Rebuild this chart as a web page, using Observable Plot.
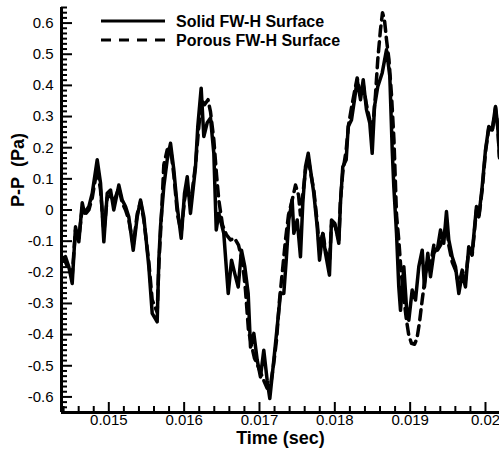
<!DOCTYPE html>
<html><head><meta charset="utf-8">
<script src="https://cdn.jsdelivr.net/npm/d3@7"></script>
<script src="https://cdn.jsdelivr.net/npm/@observablehq/plot@0.6"></script>
<style>
html,body{margin:0;padding:0;background:#fff;}
#chart{position:relative;width:499px;height:451px;}
#legend{position:absolute;left:0;top:0;pointer-events:none;}
</style></head><body><div id="chart"></div>
<script>
const seriesNames = ["Solid FW-H Surface", "Porous FW-H Surface"];
const xTicks = [0.015, 0.016, 0.017, 0.018, 0.019, 0.020];
const yTicks = [-0.6, -0.5, -0.4, -0.3, -0.2, -0.1, 0, 0.1, 0.2, 0.3, 0.4, 0.5, 0.6];
const xLabel = "Time (sec)";
const yLabel = "P-P\u00a0\u00a0(Pa)";

const solidTime = [
0.014381,0.014425,0.014469,0.014514,0.014558,0.014602,0.014647,0.014677,0.014735,0.014780,
0.014846,0.014890,0.014934,0.014979,0.015023,0.015066,0.015133,0.015178,0.015222,0.015265,
0.015324,0.015377,0.015421,0.015465,0.015531,0.015576,0.015642,0.015664,0.015686,0.015730,
0.015775,0.015819,0.015863,0.015908,0.015961,0.016005,0.016041,0.016084,0.016151,0.016181,
0.016226,0.016261,0.016306,0.016350,0.016394,0.016426,0.016460,0.016526,0.016585,0.016629,
0.016672,0.016718,0.016761,0.016805,0.016850,0.016881,0.016925,0.016970,0.017013,0.017057,
0.017102,0.017137,0.017190,0.017235,0.017279,0.017323,0.017355,0.017389,0.017434,0.017456,
0.017501,0.017544,0.017575,0.017611,0.017647,0.017677,0.017721,0.017766,0.017797,0.017840,
0.017876,0.017929,0.017956,0.018000,0.018053,0.018075,0.018106,0.018151,0.018178,0.018221,
0.018261,0.018297,0.018341,0.018377,0.018420,0.018464,0.018496,0.018527,0.018570,0.018629,
0.018686,0.018730,0.018762,0.018783,0.018819,0.018849,0.018872,0.018916,0.018951,0.018982,
0.019027,0.019071,0.019115,0.019160,0.019190,0.019234,0.019270,0.019314,0.019367,0.019403,
0.019446,0.019482,0.019513,0.019558,0.019602,0.019646,0.019691,0.019734,0.019778,0.019823,
0.019880,0.019911,0.019956,0.020000,0.020044,0.020089,0.020133,0.020163,0.020186];
const solidP = [
-0.161,-0.150,-0.182,-0.236,-0.054,-0.102,0.023,-0.010,0.011,0.054,
0.161,0.087,-0.102,0.054,0.064,0.000,0.080,0.032,0.011,-0.022,
-0.129,-0.022,0.032,-0.022,-0.182,-0.332,-0.359,-0.161,-0.054,0.075,
0.161,0.214,0.129,0.011,-0.091,0.054,0.107,-0.011,0.139,0.268,
0.391,0.236,0.280,0.295,0.182,-0.064,-0.011,-0.075,-0.268,-0.161,
-0.204,-0.247,-0.129,-0.182,-0.268,-0.440,-0.396,-0.482,-0.536,-0.450,
-0.547,-0.605,-0.482,-0.375,-0.268,-0.268,-0.161,-0.032,0.032,-0.075,
-0.032,-0.150,0.022,0.139,0.182,0.129,0.054,-0.054,-0.161,-0.075,
-0.139,-0.209,-0.032,-0.043,-0.107,0.022,0.139,0.161,0.268,0.289,
0.354,0.418,0.354,0.418,0.322,0.279,0.182,0.332,0.396,0.440,
0.514,0.429,0.193,0.075,-0.075,-0.247,-0.322,-0.182,-0.311,-0.354,
-0.257,-0.289,-0.182,-0.129,-0.247,-0.139,-0.214,-0.139,-0.118,-0.064,
-0.107,-0.005,-0.096,-0.150,-0.182,-0.268,-0.204,-0.247,-0.118,-0.139,
0.011,-0.022,0.075,0.193,0.268,0.257,0.332,0.268,0.171];

const porousTime = [
0.014381,0.014425,0.014469,0.014514,0.014558,0.014602,0.014647,0.014691,0.014735,0.014780,
0.014846,0.014890,0.014934,0.014979,0.015023,0.015066,0.015133,0.015178,0.015222,0.015265,
0.015324,0.015377,0.015421,0.015465,0.015531,0.015576,0.015642,0.015664,0.015699,0.015730,
0.015775,0.015819,0.015863,0.015912,0.015961,0.016005,0.016041,0.016084,0.016151,0.016191,
0.016230,0.016270,0.016317,0.016350,0.016394,0.016430,0.016460,0.016509,0.016562,0.016615,
0.016668,0.016722,0.016775,0.016814,0.016854,0.016894,0.016934,0.016974,0.017013,0.017057,
0.017102,0.017146,0.017186,0.017226,0.017266,0.017306,0.017345,0.017385,0.017434,0.017478,
0.017518,0.017544,0.017575,0.017611,0.017647,0.017677,0.017721,0.017766,0.017797,0.017840,
0.017876,0.017929,0.017956,0.018000,0.018053,0.018075,0.018106,0.018151,0.018182,0.018221,
0.018261,0.018297,0.018341,0.018377,0.018420,0.018464,0.018500,0.018540,0.018570,0.018606,
0.018633,0.018659,0.018686,0.018719,0.018752,0.018785,0.018819,0.018849,0.018878,0.018912,
0.018951,0.018982,0.019018,0.019058,0.019091,0.019124,0.019160,0.019190,0.019234,0.019270,
0.019314,0.019363,0.019403,0.019446,0.019482,0.019513,0.019558,0.019602,0.019646,0.019691,
0.019734,0.019778,0.019823,0.019880,0.019911,0.019956,0.020000,0.020044,0.020089,0.020133,
0.020163,0.020186];
const porousP = [
-0.154,-0.167,-0.193,-0.209,-0.064,-0.090,0.006,-0.013,0.000,0.039,
0.135,0.064,-0.071,0.039,0.048,0.026,0.071,0.023,0.000,-0.032,
-0.113,-0.013,0.026,-0.032,-0.167,-0.289,-0.328,-0.177,-0.016,0.145,
0.193,0.199,0.113,-0.016,-0.071,0.032,0.080,0.016,0.145,0.257,
0.354,0.338,0.354,0.315,0.225,0.113,0.032,-0.048,-0.080,-0.096,
-0.090,-0.113,-0.167,-0.257,-0.386,-0.434,-0.476,-0.498,-0.521,-0.547,
-0.572,-0.563,-0.498,-0.418,-0.289,-0.193,-0.096,-0.016,0.032,0.080,
0.048,-0.016,0.048,0.129,0.167,0.122,0.064,-0.039,-0.129,-0.071,
-0.129,-0.167,-0.048,-0.048,-0.096,0.032,0.122,0.193,0.273,0.328,
0.379,0.424,0.370,0.402,0.338,0.289,0.257,0.370,0.482,0.579,
0.633,0.611,0.547,0.482,0.370,0.225,-0.016,-0.096,-0.193,-0.273,
-0.354,-0.402,-0.428,-0.431,-0.412,-0.360,-0.289,-0.232,-0.154,-0.177,
-0.113,-0.129,-0.113,-0.080,-0.048,-0.113,-0.167,-0.193,-0.241,-0.193,
-0.225,-0.129,-0.145,0.000,-0.026,0.064,0.186,0.264,0.251,0.328,
0.264,0.167];

const xDomain = [0.014372, 0.020186];
const yDomain = [-0.65, 0.65];

const solid = solidTime.map((t, i) => ({t, p: solidP[i]}));
const porous = porousTime.map((t, i) => ({t, p: porousP[i]}));

const isMajorX = v => xTicks.some(m => Math.abs(m - v) < 1e-9);
const xMinor = d3.range(72, 101).map(k => k * 0.0002).filter(v => !isMajorX(v) && v >= xDomain[0] - 1e-9 && v <= xDomain[1]);
const yMinor = d3.range(-39, 40).filter(k => k % 6 !== 0).map(k => k * 0.1 / 6);

const W = 499, H = 451, mL = 61, mR = 0, mT = 7, mB = 39;
const frameW = W - mL - mR, frameH = H - mT - mB;
// tick lengths converted from pixels into data units of each scale
const xPerPx = (xDomain[1] - xDomain[0]) / frameW;
const yPerPx = (yDomain[1] - yDomain[0]) / frameH;

const font = "'Liberation Sans', Arial, Helvetica, sans-serif";
const fmtY = d => String(Math.round(d * 10) / 10);
const fmtX = d => String(Math.round(d * 1000) / 1000);

const plot = Plot.plot({
  width: W, height: H,
  marginLeft: mL, marginRight: mR, marginTop: mT, marginBottom: mB,
  style: {fontSize: "15px", color: "#000", background: "#fff", overflow: "visible"},
  x: {domain: xDomain},
  y: {domain: yDomain},
  marks: [
    Plot.axisX(xTicks, {tickSize: 0, tickPadding: 2, tickFormat: fmtX, label: null, fontSize: 15, fontFamily: font}),
    Plot.axisY(yTicks, {tickSize: 0, tickPadding: 8, tickFormat: fmtY, label: null, fontSize: 15, fontFamily: font}),
    Plot.line(solid, {x: "t", y: "p", stroke: "#000", strokeWidth: 3.5, strokeLinejoin: "round"}),
    Plot.line(porous, {x: "t", y: "p", stroke: "#000", strokeWidth: 3.5, strokeDasharray: "10,6", strokeLinejoin: "round"}),
    // inward ticks as short rules
    Plot.ruleX(xMinor, {x: d => d, y1: yDomain[0], y2: yDomain[0] + 6 * yPerPx, stroke: "#000", strokeWidth: 2}),
    Plot.ruleX(xTicks, {x: d => d, y1: yDomain[0], y2: yDomain[0] + 10 * yPerPx, stroke: "#000", strokeWidth: 2}),
    Plot.ruleY(yMinor, {y: d => d, x1: xDomain[0], x2: xDomain[0] + 6 * xPerPx, stroke: "#000", strokeWidth: 2}),
    Plot.ruleY(yTicks, {y: d => d, x1: xDomain[0], x2: xDomain[0] + 11 * xPerPx, stroke: "#000", strokeWidth: 2}),
    // axis lines
    Plot.ruleX([xDomain[0]], {stroke: "#000", strokeWidth: 3}),
    Plot.ruleY([yDomain[0]], {stroke: "#000", strokeWidth: 3}),
    Plot.text([xLabel], {frameAnchor: "bottom", dy: 31, fontWeight: "bold", fontSize: 18, fontFamily: font}),
    Plot.text([yLabel], {frameAnchor: "left", dx: -43, dy: -3, rotate: -90, fontWeight: "bold", fontSize: 18, fontFamily: font})
  ]
});
const chart = document.getElementById("chart");
chart.appendChild(plot);

// legend overlay
const lg = d3.select(chart).append("svg").attr("id", "legend").attr("width", W).attr("height", 60)
  .attr("font-family", font).attr("font-weight", "bold").attr("font-size", 16);
[{y: 21, dash: null}, {y: 40, dash: "10,8"}].forEach((r, i) => {
  lg.append("line").attr("x1", 101).attr("x2", 165).attr("y1", r.y).attr("y2", r.y)
    .attr("stroke", "#000").attr("stroke-width", 3).attr("stroke-dasharray", r.dash);
  lg.append("text").attr("x", 176).attr("y", r.y).attr("dy", "0.36em").attr("fill", "#000")
    .attr("text-anchor", "start").text(seriesNames[i]);
});
</script>
</body></html>
